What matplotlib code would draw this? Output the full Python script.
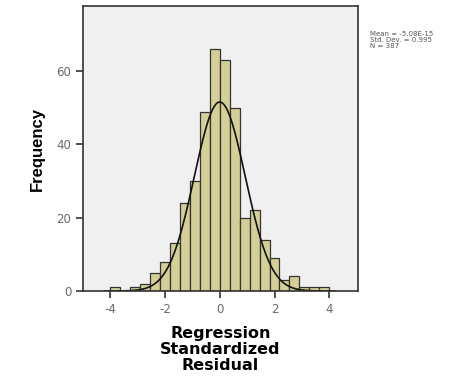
import numpy as np
import matplotlib
matplotlib.use("Agg")
import matplotlib.pyplot as plt

plt.rcParams["axes.unicode_minus"] = False

# histogram of regression standardized residuals (bins of width 8/22 from -4 to 4)
bin_lo = -4.0
bin_hi = 4.0
counts = [1, 0, 1, 2, 5, 8, 13, 24, 30, 49, 66,
          63, 50, 20, 22, 14, 9, 3, 4, 1, 1, 1]
mean_txt = "-5.08E-15"
std_txt = "0.995"
n_txt = "387"
# fitted normal curve as drawn
curve_mu = 0.0
curve_sigma = 0.93
curve_peak = 51.6

edges = np.linspace(bin_lo, bin_hi, len(counts) + 1)
width = edges[1] - edges[0]

fig = plt.figure(figsize=(4.70, 3.83), dpi=100)
ax = fig.add_axes([0.1766, 0.2402, 0.585, 0.744])
ax.set_facecolor("#f0f0f0")

ax.bar(edges[:-1], counts, width=width, align="edge", color="#d4cf96",
       edgecolor="#333333", linewidth=0.9)

xs = np.linspace(-4.2, 4.2, 300)
ys = curve_peak * np.exp(-0.5 * ((xs - curve_mu) / curve_sigma) ** 2)
ax.plot(xs, ys, color="#111111", linewidth=1.2)

ax.set_xlim(-5.0, 5.05)
ax.set_ylim(0, 77.8)
ax.set_xticks([-4, -2, 0, 2, 4])
ax.set_yticks([0, 20, 40, 60])
ax.tick_params(direction="out", length=5, width=1.2, colors="#333333",
               labelcolor="#6a6a6a", labelsize=8.5)
for s in ax.spines.values():
    s.set_color("#333333")
    s.set_linewidth(1.2)

ax.set_ylabel("Frequency", fontsize=12, fontweight="bold",
              family="Liberation Sans", labelpad=8)
ax.set_xlabel("Regression\nStandardized\nResidual", fontsize=11.5,
              fontweight="bold", linespacing=1.1, labelpad=7)

fig.text(0.787, 0.918, "Mean = %s\nStd. Dev. = %s\nN = %s" % (mean_txt, std_txt, n_txt),
         fontsize=5, color="#555555", va="top", ha="left", linespacing=1.0)

fig.savefig("out.png", dpi=100)
